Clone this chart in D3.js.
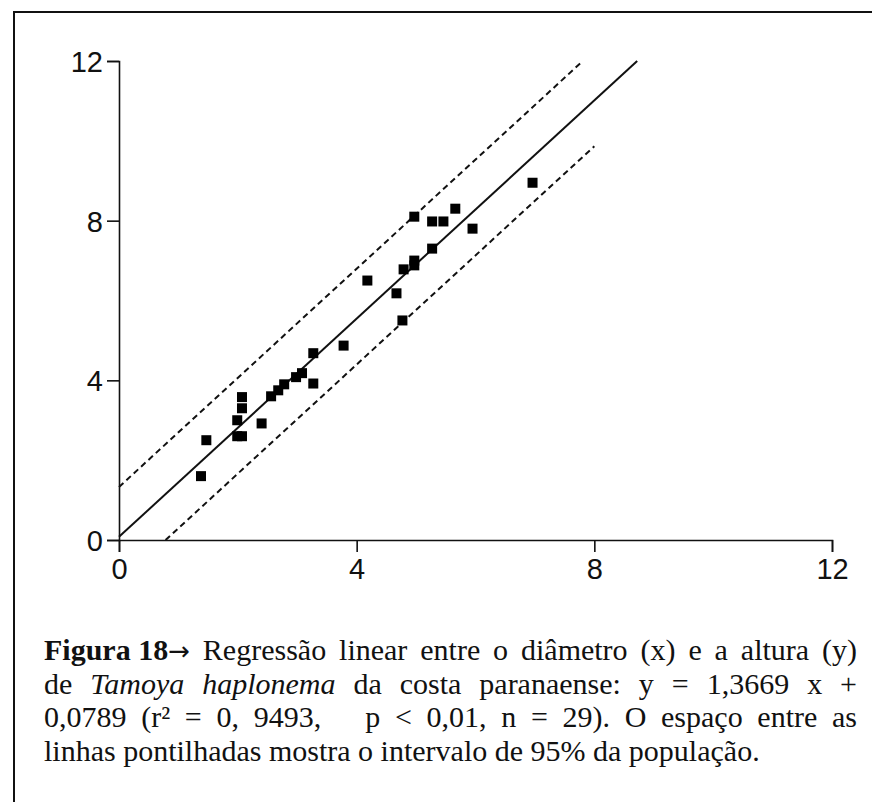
<!DOCTYPE html>
<html>
<head>
<meta charset="utf-8">
<script src="https://cdn.jsdelivr.net/npm/d3@7"></script>
<style>
  body { margin: 0; background: #fff; }
  svg { display: block; }
</style>
</head>
<body>
<div class="chart"></div>
<script>
// diameter (x) and height (y) of each medusa
const diametro = [1.38, 1.47, 1.99, 1.99, 2.07, 2.07, 2.07, 2.40, 2.56, 2.68,
                  2.78, 2.98, 3.08, 3.27, 3.27, 3.78, 4.18, 4.67, 4.77, 4.79,
                  4.97, 4.97, 4.97, 5.27, 5.27, 5.46, 5.66, 5.95, 6.96];
const altura   = [1.60, 2.50, 3.00, 2.60, 2.60, 3.58, 3.30, 2.92, 3.60, 3.75,
                  3.90, 4.08, 4.18, 4.68, 3.92, 4.87, 6.50, 6.18, 5.50, 6.78,
                  7.00, 6.88, 8.10, 7.30, 7.98, 7.98, 8.30, 7.80, 8.95];

// y = a x + b, and the 95% band offsets
const slope = 1.3669;
const intercept = 0.0789;
const bandUpper = 1.25;
const bandLower = -1.15;
const lowerEndX = 8;

const xTicks = [0, 4, 8, 12];
const yTicks = [0, 4, 8, 12];

const captionLines = [
  [{t: "Figura 18", b: true, arrow: true}, {t: "Regressão"}, {t: "linear"}, {t: "entre"}, {t: "o"}, {t: "diâmetro"}, {t: "(x)"}, {t: "e"}, {t: "a"}, {t: "altura"}, {t: "(y)"}],
  [{t: "de"}, {t: "Tamoya", i: true}, {t: "haplonema", i: true}, {t: "da"}, {t: "costa"}, {t: "paranaense:"}, {t: "y"}, {t: "="}, {t: "1,3669"}, {t: "x"}, {t: "+"}],
  [{t: "0,0789"}, {t: "(r\u00b2"}, {t: "="}, {t: "0,"}, {t: "9493,", gap: 3}, {t: "p"}, {t: "<"}, {t: "0,01,"}, {t: "n"}, {t: "="}, {t: "29)."}, {t: "O"}, {t: "espaço"}, {t: "entre"}, {t: "as"}],
  [{t: "linhas pontilhadas mostra o intervalo de 95% da população."}]
];

const W = 872, H = 802;
const svg = d3.select('.chart').append('svg')
    .attr('width', W)
    .attr('height', H);

// frame (top and left only)
svg.append('path')
    .attr('d', 'M14,' + H + 'V12H' + W)
    .attr('fill', 'none')
    .attr('stroke', '#111')
    .attr('stroke-width', 2);

let x = d3.scaleLinear().domain([0, 12]).range([119, 832]);
let y = d3.scaleLinear().domain([0, 12]).range([540, 61]);

// axes
const xAxis = svg.append('g')
    .attr('transform', 'translate(0,' + y(0) + ')')
    .call(d3.axisBottom(x).tickValues(xTicks).tickSize(12).tickSizeOuter(12).tickPadding(6));
const yAxis = svg.append('g')
    .attr('transform', 'translate(' + x(0) + ',0)')
    .call(d3.axisLeft(y).tickValues(yTicks).tickSize(12).tickSizeOuter(12).tickPadding(4));

[xAxis, yAxis].forEach(function(g) {
    g.selectAll('path, line').attr('stroke', '#111').attr('stroke-width', 1.6);
    g.selectAll('text')
        .attr('fill', '#111')
        .style('font-family', '"Liberation Sans", Arial, sans-serif')
        .style('font-size', '29px');
});
yAxis.selectAll('text').attr('dy', '0.36em');

// regression line and 95% band
const line = d3.line()
    .x(function(d) { return x(d[0]); })
    .y(function(d) { return y(d[1]); });

function seg(off, x0, x1) {
    return [[x0, slope * x0 + intercept + off], [x1, slope * x1 + intercept + off]];
}
const xAt12 = function(off) { return (12 - intercept - off) / slope; };
const xAt0 = function(off) { return (0 - intercept - off) / slope; };

svg.append('path')
    .attr('d', line(seg(0, 0, xAt12(0))))
    .attr('fill', 'none').attr('stroke', '#111').attr('stroke-width', 2);
svg.append('path')
    .attr('d', line(seg(bandUpper, 0, xAt12(bandUpper))))
    .attr('fill', 'none').attr('stroke', '#111').attr('stroke-width', 2)
    .attr('stroke-dasharray', '6,4');
svg.append('path')
    .attr('d', line(seg(bandLower, xAt0(bandLower), lowerEndX)))
    .attr('fill', 'none').attr('stroke', '#111').attr('stroke-width', 2)
    .attr('stroke-dasharray', '6,4');

// points
const pts = diametro.map(function(d, i) { return {d: d, a: altura[i]}; });
const sz = 10;
svg.selectAll('.pt')
    .data(pts)
    .enter().append('rect')
    .attr('class', 'pt')
    .attr('x', function(p) { return x(p.d) - sz / 2; })
    .attr('y', function(p) { return y(p.a) - sz / 2; })
    .attr('width', sz)
    .attr('height', sz)
    .attr('fill', '#000');

// caption, justified by hand
const capLeft = 44, capRight = 857, capTop = 660, lineH = 33.5;
const cap = svg.append('g')
    .style('font-family', '"Liberation Serif", "Times New Roman", serif')
    .style('font-size', '30px')
    .attr('fill', '#111');

captionLines.forEach(function(words, li) {
    const yy = capTop + li * lineH;
    const nodes = words.map(function(w) {
        const t = cap.append('text')
            .attr('y', yy)
            .style('font-weight', w.b ? 'bold' : null)
            .style('font-style', w.i ? 'italic' : null)
            .text(w.t);
        if (w.arrow) {
            t.append('tspan')
                .style('font-family', '"DejaVu Sans", sans-serif')
                .style('font-weight', 'normal')
                .style('font-size', '26px')
                .text('\u2192');
        }
        return t;
    });
    const widths = nodes.map(function(n) { return n.node().getComputedTextLength(); });
    const last = li === captionLines.length - 1;
    let gaps = 0;
    words.forEach(function(w, i) { if (i < words.length - 1) gaps += (w.gap || 1); });
    const space = last || gaps === 0 ? 0 : (capRight - capLeft - d3.sum(widths)) / gaps;
    let cx = capLeft;
    nodes.forEach(function(n, i) {
        n.attr('x', cx);
        cx += widths[i] + space * (words[i].gap || 1);
    });
});
</script>
</body>
</html>
